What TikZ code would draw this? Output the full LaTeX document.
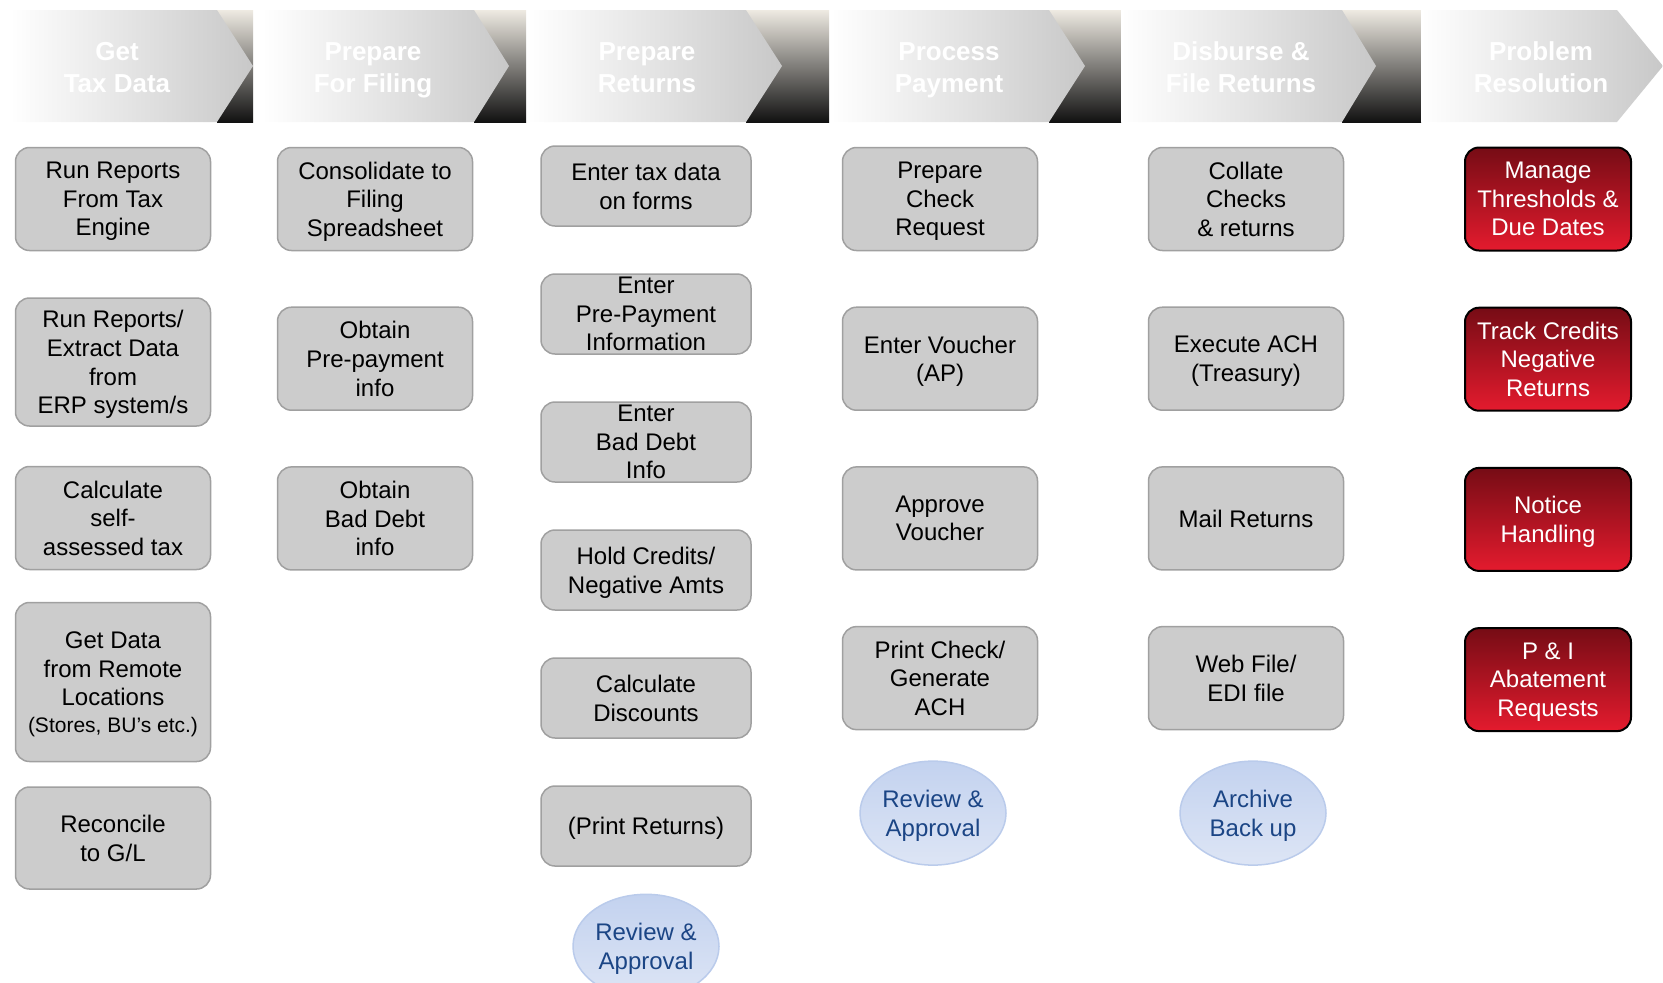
\documentclass[tikz,border=0pt]{standalone}
\usepackage{fontspec}
\setmainfont{Liberation Sans}
\usepackage{tikz}
\usetikzlibrary{positioning, shapes.geometric}

\definecolor{BoxGray}{HTML}{CCCCCC}
\definecolor{BoxLine}{HTML}{A0A0A0}
\definecolor{DarkRed}{HTML}{760C15}
\definecolor{BrightRed}{HTML}{E41B2E}
\definecolor{OvalTop}{HTML}{C3D2EF}
\definecolor{OvalBottom}{HTML}{DDE5F5}
\definecolor{OvalLine}{HTML}{BACBEB}
\definecolor{OvalText}{HTML}{1B4585}
\definecolor{HdrBeige}{HTML}{EEEAE2}
\definecolor{HdrMid}{HTML}{8E8A84}
\definecolor{HdrDark}{HTML}{111111}
\definecolor{HdrGray}{HTML}{C8C8C8}

\begin{document}
\begin{tikzpicture}[x=0.5pt, y=-0.5pt, node distance=27.6pt,
		lines/.style={align=center, text depth=0pt, font=\fontsize{12}{14.3}\selectfont},
		task/.style={lines, draw=BoxLine, line width=0.75pt, fill=BoxGray, rounded corners=7pt, inner sep=2pt,
			minimum width=97.5pt, minimum height=51.5pt},
		slim/.style={task, minimum width=105pt, minimum height=40pt, inner ysep=1pt},
		bare/.style={inner ysep=0pt},
		issue/.style={lines, draw=black, line width=1pt, top color=DarkRed, middle color=BrightRed!80!DarkRed,
			bottom color=BrightRed, text=white, rounded corners=7pt, inner sep=2pt, minimum width=83pt, minimum height=51.5pt},
		review/.style={lines, ellipse, draw=OvalLine, line width=0.75pt, top color=OvalTop, bottom color=OvalBottom, text=OvalText,
			inner sep=0pt, minimum width=73pt, minimum height=52pt},
		header/.style={text=white, align=center, font=\bfseries\fontsize{13}{16}\selectfont},
		fade/.style={left color=white, right color=HdrGray},
		dusk/.style={top color=HdrBeige, middle color=HdrMid, bottom color=HdrDark}]
		\clip (0,0) rectangle (1663,982);

		% phase arrows
		\shade[dusk] (217,10) rectangle (253,122);
		\shade[fade] (10,10) -- (217,10) -- (253,66) -- (217,122) -- (10,122) -- cycle;
		\shade[dusk] (474,10) rectangle (526,122);
		\shade[fade] (262,10) -- (474,10) -- (509,66) -- (474,122) -- (262,122) -- cycle;
		\shade[dusk] (746,10) rectangle (829,122);
		\shade[fade] (527,10) -- (746,10) -- (782,66) -- (746,122) -- (527,122) -- cycle;
		\shade[dusk] (1049,10) rectangle (1121,122);
		\shade[fade] (831,10) -- (1049,10) -- (1085,66) -- (1049,122) -- (831,122) -- cycle;
		\shade[dusk] (1342,10) rectangle (1421,122);
		\shade[fade] (1121,10) -- (1342,10) -- (1376,66) -- (1342,122) -- (1121,122) -- cycle;
		\shade[fade] (1421,10) -- (1617,10) -- (1663,66) -- (1617,122) -- (1421,122) -- cycle;

		\node[header] (HdrTaxData) at (117,68) {Get\\Tax Data};
		\node[header] (HdrFiling) at (373,70) {Prepare\\For Filing};
		\node[header] (HdrReturns) at (647,68) {Prepare\\Returns};
		\node[header] (HdrPayment) at (949,70) {Process\\Payment};
		\node[header] (HdrDisburse) at (1241,67) {Disburse \&\\File Returns};
		\node[header] (HdrProblem) at (1541,67) {Problem\\Resolution};

		% get tax data
		\node[task] (RunReports) at (113,199) {Run Reports\\From Tax\\Engine};
		\node[task, minimum height=64pt] (RunReportsErp) at (113,362) {Run Reports/\\Extract Data\\from\\ERP system/s};
		\node[task] (CalcSelfTax) at (113,518) {Calculate\\self-\\assessed tax};
		\node[task, minimum height=79.5pt] (RemoteData) at (113,682) {Get Data\\from Remote\\Locations\\[-1pt]{\fontsize{10.5}{12.5}\selectfont (Stores, BU’s etc.)}};
		\node[task, minimum height=51pt] (ReconcileGL) at (113,838) {Reconcile\\to G/L};

		% prepare for filing
		\node[task] (Consolidate) at (375,199) {Consolidate to\\Filing\\Spreadsheet};
		\node[task, below=of Consolidate] (ObtainPrePay) {Obtain\\Pre-payment\\info};
		\node[task, below=of ObtainPrePay] (ObtainBadDebt) {Obtain\\Bad Debt\\info};

		% prepare returns
		\node[slim] (EnterTaxData) at (646,186) {Enter tax data\\on forms};
		\node[slim, bare, below=23.25pt of EnterTaxData] (EnterPrePay) {Enter\\Pre-Payment\\Information};
		\node[slim, bare, below=23.25pt of EnterPrePay] (EnterBadDebt) {Enter\\Bad Debt\\Info};
		\node[slim, below=23.25pt of EnterBadDebt] (HoldCredits) {Hold Credits/\\Negative Amts};
		\node[slim, below=23.25pt of HoldCredits] (CalcDiscounts) {Calculate\\Discounts};
		\node[slim, below=23.25pt of CalcDiscounts] (PrintReturns) {(Print Returns)};
		\node[review, below=13.4pt of PrintReturns] (ReviewReturns) {Review \&\\Approval};

		% process payment
		\node[task] (PrepareCheck) at (940,199) {Prepare\\Check\\Request};
		\node[task, below=of PrepareCheck] (EnterVoucher) {Enter Voucher\\(AP)};
		\node[task, below=of EnterVoucher] (ApproveVoucher) {Approve\\Voucher};
		\node[task, below=of ApproveVoucher] (PrintCheck) {Print Check/\\Generate\\ACH};
		\node[review, below=15pt of PrintCheck, xshift=-3.5pt] (ReviewPayment) {Review \&\\Approval};

		% disburse and file
		\node[task] (CollateChecks) at (1246,199) {Collate\\Checks\\\& returns};
		\node[task, below=of CollateChecks] (ExecuteACH) {Execute ACH\\(Treasury)};
		\node[task, below=of ExecuteACH] (MailReturns) {Mail Returns};
		\node[task, below=of MailReturns] (WebFile) {Web File/\\EDI file};
		\node[review, below=15pt of WebFile, xshift=3.5pt] (ArchiveBackup) {Archive\\Back up};

		% problem resolution
		\node[issue] (ManageThresholds) at (1548,199) {Manage\\Thresholds \&\\Due Dates};
		\node[issue, below=of ManageThresholds] (TrackCredits) {Track Credits\\Negative\\Returns};
		\node[issue, below=of TrackCredits] (NoticeHandling) {Notice\\Handling};
		\node[issue, below=of NoticeHandling] (AbatementRequests) {P \& I\\Abatement\\Requests};
	\end{tikzpicture}
\end{document}
